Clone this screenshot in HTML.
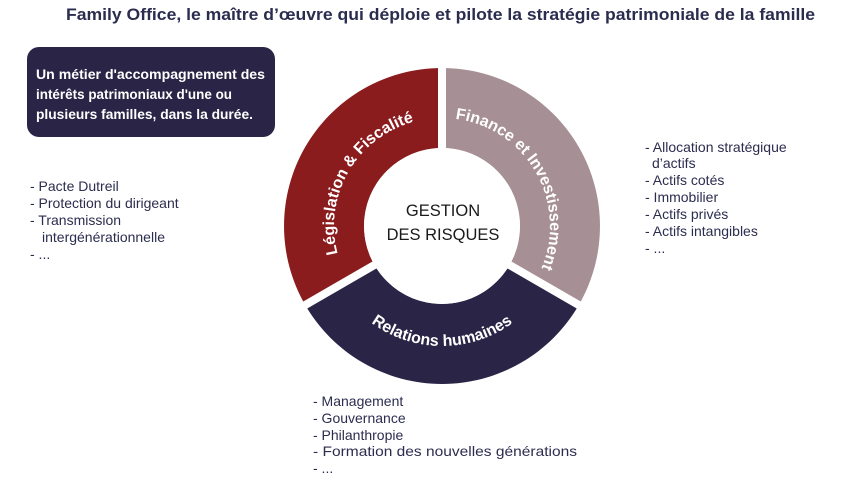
<!DOCTYPE html>
<html><head><meta charset="utf-8"><style>
html,body{margin:0;padding:0;background:#fff;}
svg{display:block;}
text{font-family:"Liberation Sans",sans-serif;}
</style></head><body>
<svg width="848" height="489" viewBox="0 0 848 489" xmlns="http://www.w3.org/2000/svg">
<text x="66" y="20" textLength="749" lengthAdjust="spacingAndGlyphs" font-size="17" font-weight="bold" fill="#2b2d4f">Family Office, le maître d’œuvre qui déploie et pilote la stratégie patrimoniale de la famille</text>
<rect x="27" y="47" width="248" height="90" rx="12" fill="#2a2446"/>
<g font-size="13.5" font-weight="bold" fill="#fff">
<text x="36" y="79" textLength="229" lengthAdjust="spacingAndGlyphs">Un métier d'accompagnement des</text>
<text x="36" y="99" textLength="196" lengthAdjust="spacingAndGlyphs">intérêts patrimoniaux d'une ou</text>
<text x="36" y="119" textLength="217" lengthAdjust="spacingAndGlyphs">plusieurs familles, dans la durée.</text>
</g>
<path d="M305.2,305 A158,158 0 0 1 442,68 L442,148 A78,78 0 0 0 374.5,265 Z" fill="#8b1c1e"/>
<path d="M442,68 A158,158 0 0 1 578.8,305 L509.5,265 A78,78 0 0 0 442,148 Z" fill="#a69095"/>
<path d="M578.8,305 A158,158 0 0 1 305.2,305 L374.5,265 A78,78 0 0 0 509.5,265 Z" fill="#2a2446"/>
<g stroke="#fff" stroke-width="8">
<line x1="442" y1="226" x2="442" y2="55"/>
<line x1="442" y1="226" x2="590" y2="311.5"/>
<line x1="442" y1="226" x2="294" y2="311.5"/>
</g>
<circle cx="442" cy="226" r="78" fill="#fff"/>
<defs>
<path id="pr" d="M348.5,280 A108,108 0 0 1 442,118"/>
<path id="pg" d="M442,118 A108,108 0 0 1 535.5,280"/>
<path id="pn" d="M338.1,286 A120,120 0 0 0 545.9,286"/>
</defs>
<g font-size="16" font-weight="bold" fill="#fff">
<text><textPath href="#pr" startOffset="50%" text-anchor="middle">Législation &amp; Fiscalité</textPath></text>
<text><textPath href="#pg" startOffset="50%" text-anchor="middle">Finance et Investissement</textPath></text>
<text><textPath href="#pn" startOffset="50%" text-anchor="middle">Relations humaines</textPath></text>
</g>
<g font-size="16.5" fill="#1a1a1a" text-anchor="middle">
<text x="443" y="216">GESTION</text>
<text x="443" y="240">DES RISQUES</text>
</g>
<g font-size="14" fill="#2b2d4f">
<text x="30" y="191">- Pacte Dutreil</text>
<text x="30" y="208">- Protection du dirigeant</text>
<text x="30" y="225">- Transmission</text>
<text x="42" y="242">intergénérationnelle</text>
<text x="30" y="259">- ...</text>
<text x="645" y="152">- Allocation stratégique</text>
<text x="652" y="168">d’actifs</text>
<text x="645" y="185">- Actifs cotés</text>
<text x="645" y="202">- Immobilier</text>
<text x="645" y="219">- Actifs privés</text>
<text x="645" y="236">- Actifs intangibles</text>
<text x="645" y="253">- ...</text>
<text x="313" y="406">- Management</text>
<text x="313" y="423">- Gouvernance</text>
<text x="313" y="440">- Philanthropie</text>
<text x="313" y="456" textLength="264" lengthAdjust="spacingAndGlyphs">- Formation des nouvelles générations</text>
<text x="313" y="473">- ...</text>
</g>
</svg>
</body></html>
